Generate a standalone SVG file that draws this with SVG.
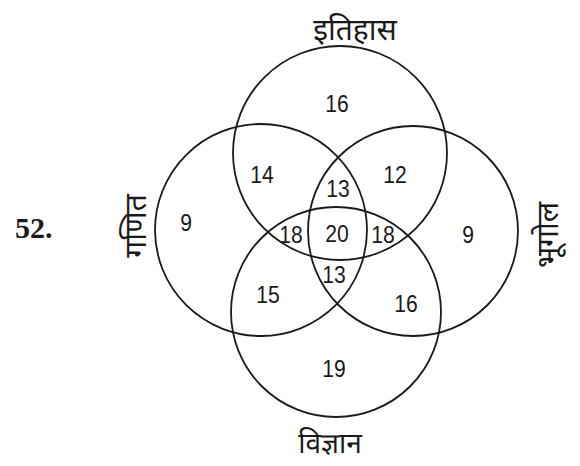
<svg xmlns="http://www.w3.org/2000/svg" width="580" height="466" viewBox="0 0 580 466">
<style>
.c{fill:none;stroke:#1a1a1a;stroke-width:1.8}
.n{font-family:"Liberation Sans",Arial,sans-serif;font-size:24px;fill:#1a1a1a;text-anchor:middle}
.l{font-family:"Noto Sans Devanagari","Noto Serif Devanagari","Lohit Devanagari","Mangal",sans-serif;font-size:30px;fill:#1a1a1a;text-anchor:middle}
.q{font-family:"Liberation Serif","Times New Roman",serif;font-size:30px;font-weight:bold;fill:#1a1a1a}
</style>
<rect width="580" height="466" fill="#fff"/>
<g id="connectors"></g>
<g id="itihas">
<circle class="c" cx="340" cy="153" r="107"/>
<text class="l" x="355" y="40">इतिहास</text>
</g>
<g id="ganit">
<circle class="c" cx="261" cy="230" r="106"/>
<text class="l" transform="translate(146,226) rotate(-90)">गणित</text>
</g>
<g id="bhugol">
<circle class="c" cx="413" cy="231" r="105"/>
<text class="l" transform="translate(558,235) rotate(-90)">भूगोल</text>
</g>
<g id="vigyan">
<circle class="c" cx="336" cy="312" r="105"/>
<text class="l" x="330" y="453" style="font-size:28px">विज्ञान</text>
</g>
<g id="numbers">
<text class="n" transform="translate(337,112) scale(0.88,1)">16</text>
<text class="n" transform="translate(262,183) scale(0.88,1)">14</text>
<text class="n" transform="translate(395,183) scale(0.88,1)">12</text>
<text class="n" transform="translate(338,197) scale(0.88,1)">13</text>
<text class="n" transform="translate(186,231) scale(0.88,1)">9</text>
<text class="n" transform="translate(291,243) scale(0.88,1)">18</text>
<text class="n" transform="translate(337,242) scale(0.88,1)">20</text>
<text class="n" transform="translate(383,243) scale(0.88,1)">18</text>
<text class="n" transform="translate(468,243) scale(0.88,1)">9</text>
<text class="n" transform="translate(334,283) scale(0.88,1)">13</text>
<text class="n" transform="translate(268,303) scale(0.88,1)">15</text>
<text class="n" transform="translate(406,312) scale(0.88,1)">16</text>
<text class="n" transform="translate(334,377) scale(0.88,1)">19</text>
</g>
<text class="q" x="15" y="238">52.</text>
</svg>
